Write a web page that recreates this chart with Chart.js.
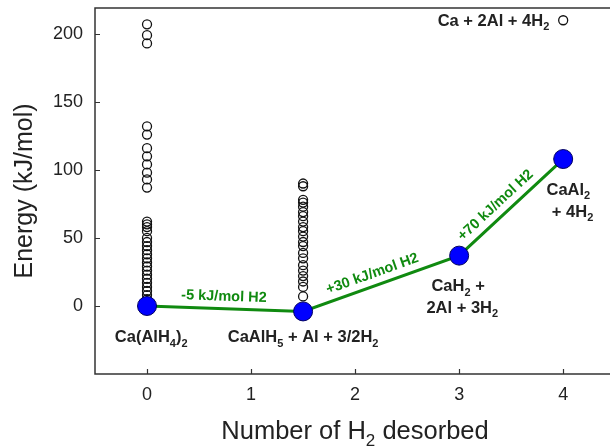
<!DOCTYPE html>
<html>
<head>
<meta charset="utf-8">
<script src="https://cdn.jsdelivr.net/npm/chart.js@4/dist/chart.umd.min.js"></script>
<style>
  body { margin: 0; background: #fff; }
  #wrap { width: 610px; height: 448px; }
</style>
</head>
<body>
<div id="wrap"><canvas id="chart"></canvas></div>
<script>
// pathway: number of H2 desorbed vs energy
var pathX = [0, 1.5, 3, 4];
var pathE = [0, -4, 37, 108];

// sampled structures (open circles)
var col0X = 0;
var col0E = [207, 199, 193, 132, 126, 116, 110, 104, 98, 93, 87,
             62, 60, 58, 55, 50, 47, 44, 41, 38, 35, 32, 29, 26, 23, 20, 17, 14, 11, 8, 5, 2];
var col15X = 1.5;
var col15E = [90, 88, 78, 76, 73, 69, 66, 62, 58, 55, 51, 47, 44, 39, 35, 30, 26, 22, 18, 14, 7];
var topX = [4];
var topE = [210];

var xTicks = [0, 1, 2, 3, 4];
var yTicks = [0, 50, 100, 150, 200];

var stepLabels = ["-5 kJ/mol H2", "+30 kJ/mol H2", "+70 kJ/mol H2"];

function pts(x, arr) {
    return arr.map(function (v) { return { x: x, y: v }; });
}

var openPts = pts(col0X, col0E).concat(pts(col15X, col15E));
topX.forEach(function (x, i) { openPts.push({ x: x, y: topE[i] }); });

var pathPts = pathX.map(function (x, i) { return { x: x, y: pathE[i] }; });

var FONT = '"Liberation Sans", Arial, Helvetica, sans-serif';
var INK = '#222';

// draw text with subscripts, centred at (cx, cy)
function richText(ctx, parts, cx, cy, size) {
    var subSize = Math.round(size * 0.68);
    var w = 0;
    parts.forEach(function (p) {
        ctx.font = 'bold ' + (p.sub ? subSize : size) + 'px ' + FONT;
        p.w = ctx.measureText(p.t).width;
        w += p.w;
    });
    var x = cx - w / 2;
    ctx.textAlign = 'left';
    ctx.textBaseline = 'middle';
    parts.forEach(function (p) {
        ctx.font = 'bold ' + (p.sub ? subSize : size) + 'px ' + FONT;
        ctx.fillText(p.t, x, p.sub ? cy + size * 0.35 : cy);
        x += p.w;
    });
}

function sp(str) {
    // "_2" marks a subscript
    return str.split('|').map(function (s) {
        return s.charAt(0) === '_' ? { t: s.slice(1), sub: true } : { t: s };
    });
}

var speciesLabels = [
    { parts: 'Ca(AlH|_4|)|_2', x: 0.04, y: -23.5 },
    { parts: 'CaAlH|_5| + Al + 3/2H|_2', x: 1.5, y: -23.5 },
    { parts: 'CaH|_2| +', x: 2.99, y: 14 },
    { parts: '2Al + 3H|_2', x: 3.03, y: -1.5 },
    { parts: 'CaAl|_2', x: 4.05, y: 85 },
    { parts: '+ 4H|_2', x: 4.09, y: 69 },
    { parts: 'Ca + 2Al + 4H|_2', x: 3.33, y: 209 }
];
var stepPos = [0.49, 0.47, 0.43];

var decor = {
    id: 'decor',
    afterDatasetsDraw: function (chart) {
        var ctx = chart.ctx;
        var xs = chart.scales.x, ys = chart.scales.y;
        var a = chart.chartArea;
        ctx.save();

        // axes frame
        ctx.strokeStyle = '#333';
        ctx.lineWidth = 1.5;
        ctx.beginPath();
        ctx.moveTo(a.right, a.top);
        ctx.lineTo(a.left, a.top);
        ctx.lineTo(a.left, a.bottom);
        ctx.lineTo(a.right, a.bottom);
        ctx.stroke();

        // inward ticks
        ctx.lineWidth = 1.2;
        ctx.beginPath();
        xTicks.forEach(function (v) {
            var px = Math.round(xs.getPixelForValue(v)) + 0.5;
            ctx.moveTo(px, a.bottom);
            ctx.lineTo(px, a.bottom - 5);
        });
        yTicks.forEach(function (v) {
            var py = Math.round(ys.getPixelForValue(v)) + 0.5;
            ctx.moveTo(a.left, py);
            ctx.lineTo(a.left + 5, py);
        });
        ctx.stroke();

        // green step labels along segments
        ctx.fillStyle = '#108a10';
        ctx.font = 'bold 14.5px ' + FONT;
        ctx.textAlign = 'center';
        ctx.textBaseline = 'middle';
        for (var i = 0; i < stepLabels.length; i++) {
            var x1 = xs.getPixelForValue(pathX[i]), y1 = ys.getPixelForValue(pathE[i]);
            var x2 = xs.getPixelForValue(pathX[i + 1]), y2 = ys.getPixelForValue(pathE[i + 1]);
            var ang = Math.atan2(y2 - y1, x2 - x1);
            var t = stepPos[i];
            var mx = x1 + (x2 - x1) * t, my = y1 + (y2 - y1) * t;
            var off = 12;
            mx += Math.sin(ang) * off;
            my -= Math.cos(ang) * off;
            ctx.save();
            ctx.translate(mx, my);
            ctx.rotate(ang);
            ctx.fillText(stepLabels[i], 0, 0);
            ctx.restore();
        }

        // species labels
        ctx.fillStyle = INK;
        speciesLabels.forEach(function (l) {
            richText(ctx, sp(l.parts), xs.getPixelForValue(l.x), ys.getPixelForValue(l.y), 16.5);
        });

        // axis titles
        ctx.fillStyle = INK;
        ctx.font = '25px ' + FONT;
        ctx.textAlign = 'center';
        ctx.textBaseline = 'middle';
        ctx.save();
        ctx.translate(25, 191);
        ctx.rotate(-Math.PI / 2);
        ctx.fillText('Energy (kJ/mol)', 0, 0);
        ctx.restore();

        var parts = [{ t: 'Number of H' }, { t: '2', sub: true }, { t: ' desorbed' }];
        var w = 0;
        parts.forEach(function (p) {
            ctx.font = (p.sub ? 17 : 25.5) + 'px ' + FONT;
            p.w = ctx.measureText(p.t).width;
            w += p.w;
        });
        var cx = 355 - w / 2, cy = 432;
        ctx.textAlign = 'left';
        parts.forEach(function (p) {
            ctx.font = (p.sub ? 17 : 25.5) + 'px ' + FONT;
            ctx.fillText(p.t, cx, p.sub ? cy + 9 : cy);
            cx += p.w;
        });

        ctx.restore();
    }
};

new Chart(document.getElementById('chart'), {
    type: 'scatter',
    data: {
        datasets: [{
            label: 'pathway',
            data: pathPts,
            showLine: true,
            borderColor: '#108a10',
            borderWidth: 3,
            pointRadius: 9.5,
            pointBackgroundColor: '#0000ff',
            pointBorderColor: '#000060',
            pointBorderWidth: 1,
            clip: false,
            order: 1
        }, {
            label: 'structures',
            data: openPts,
            showLine: false,
            pointRadius: 4.5,
            pointBackgroundColor: 'rgba(255,255,255,0)',
            pointBorderColor: '#111',
            pointBorderWidth: 1.3,
            clip: false,
            order: 2
        }]
    },
    options: {
        responsive: true,
        maintainAspectRatio: false,
        animation: false,
        layout: { autoPadding: false, padding: { top: 8, right: 0, left: 0, bottom: 0 } },
        plugins: {
            legend: { display: false },
            tooltip: { enabled: false }
        },
        scales: {
            x: {
                type: 'linear',
                min: -0.5,
                max: 4.45,
                afterBuildTicks: function (s) { s.ticks = xTicks.map(function (v) { return { value: v }; }); },
                afterFit: function (s) { s.height = 74; s.paddingLeft = 0; s.paddingRight = 0; },
                grid: { display: false, drawTicks: false },
                border: { display: false },
                ticks: { padding: 10, color: INK, font: { family: FONT, size: 18 } }
            },
            y: {
                type: 'linear',
                min: -50,
                max: 219,
                afterBuildTicks: function (s) { s.ticks = yTicks.map(function (v) { return { value: v }; }); },
                afterFit: function (s) { s.width = 95; s.paddingTop = 0; s.paddingBottom = 0; },
                grid: { display: false, drawTicks: false },
                border: { display: false },
                ticks: { padding: 12, color: INK, font: { family: FONT, size: 18 } }
            }
        }
    },
    plugins: [decor]
});
</script>
</body>
</html>
